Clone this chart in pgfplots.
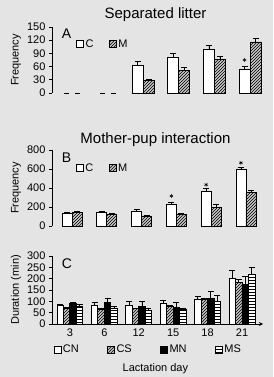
\documentclass[border=0pt]{standalone}
\usepackage{pgfplots}
\pgfplotsset{compat=1.18}
\usetikzlibrary{patterns}
\usepackage{fontspec}
\setmainfont{Liberation Sans}
\definecolor{bg}{HTML}{E4E4E4}
\pgfplotsset{
  panel/.style={scale only axis, axis y line=left, axis line style={-, line width=0.8pt, black},
    tick align=outside, major tick length=3pt, tick style={line width=0.8pt, black},
    /pgf/number format/assume math mode=true,
    ticklabel style={font=\fontsize{11}{11}\selectfont},
    every axis y label/.style={at={(axis description cs:0,0.5)}, xshift=-36pt, rotate=90, anchor=center, font=\fontsize{11}{12}\selectfont},
    clip=false,
    legend style={draw=none, fill=none, inner sep=0pt, font=\fontsize{11}{11}\selectfont,
      nodes={inner sep=1.5pt}},
    legend image code/.code={\draw[##1,/tikz/.cd,line width=0.8pt] (0pt,-3.5pt) rectangle (7pt,3.5pt);},
  },
  eb/.style={error bars/y dir=plus, error bars/y explicit,
    error bars/error bar style={line width=0.8pt, black},
    error bars/error mark options={line width=0.8pt, mark size=3pt, black, rotate=90}},
  cbar/.style={ybar, bar shift=0pt, draw=black, line width=0.8pt, fill=white},
  mbar/.style={ybar, bar shift=0pt, draw=black, line width=0.8pt, fill=gray!45, postaction={pattern=north east lines}},
}
\begin{document}
\begin{tikzpicture}
\path[use as bounding box, fill=bg] (0pt,0pt) rectangle (273pt,377pt);
% Panel A
\begin{axis}[panel, at={(52pt,284pt)}, anchor=south west, width=213pt, height=66pt,
  axis x line=none, xmin=-0.56, xmax=5.42, ymin=0, ymax=150, ytick={0,30,...,150},
  ylabel={Frequency},
  title={Separated litter}, title style={at={(0.5,1)}, anchor=center, yshift=6pt, xshift=-3pt, font=\fontsize{15}{15}\selectfont},
  legend columns=2, legend style={at={(0.113,0.74)}, anchor=west, /tikz/every even column/.append style={column sep=14pt}}]
\addplot[cbar, bar width=11pt, eb] coordinates {(1.845,63) +- (0,8) (2.845,82) +- (0,7) (3.845,98) +- (0,10) (4.845,53) +- (0,8)};
\addlegendentry{C}
\addplot[mbar, bar width=11pt, eb] coordinates {(2.155,29) +- (0,2) (3.155,52) +- (0,6) (4.155,77) +- (0,6) (5.155,116) +- (0,7)};
\addlegendentry{M}
\addplot[only marks, mark=-, mark size=2.5pt, mark options={line width=0.8pt}, forget plot] coordinates {(-0.155,0) (0.155,0) (0.845,0) (1.155,0)};
\addplot[only marks, mark=asterisk, mark size=2pt, mark options={line width=0.5pt}, forget plot] coordinates {(4.845,75)};
\node[anchor=west, font=\fontsize{14}{14}\selectfont] at (rel axis cs:0.03,0.9) {A};
\end{axis}
% Panel B
\begin{axis}[panel, at={(52pt,151pt)}, anchor=south west, width=211pt, height=76pt,
  axis x line=none, xmin=-0.575, xmax=5.49, ymin=0, ymax=800, ytick={0,200,...,800},
  ylabel={Frequency},
  title={Mother-pup interaction}, title style={at={(0.5,1)}, anchor=center, yshift=4pt, xshift=-2pt, font=\fontsize{15}{15}\selectfont},
  legend columns=2, legend style={at={(0.113,0.76)}, anchor=west, /tikz/every even column/.append style={column sep=14pt}}]
\addplot[cbar, bar width=10pt, eb] coordinates {(-0.144,130) +- (0,10) (0.856,141) +- (0,12) (1.856,158) +- (0,12) (2.856,225) +- (0,20) (3.856,360) +- (0,35) (4.856,592) +- (0,20)};
\addlegendentry{C}
\addplot[mbar, bar width=10pt, eb] coordinates {(0.144,141) +- (0,10) (1.144,120) +- (0,8) (2.144,106) +- (0,8) (3.144,120) +- (0,8) (4.144,197) +- (0,30) (5.144,356) +- (0,14)};
\addlegendentry{M}
\addplot[only marks, mark=asterisk, mark size=2pt, mark options={line width=0.5pt}, forget plot] coordinates {(2.856,316) (3.856,435) (4.856,665)};
\node[anchor=west, font=\fontsize{14}{14}\selectfont] at (rel axis cs:0.03,0.9) {B};
\end{axis}
% Panel C
\begin{axis}[panel, at={(52pt,53pt)}, anchor=south west, width=211pt, height=68pt,
  axis x line=bottom, xmin=-0.52, xmax=5.61, ymin=0, ymax=300, ytick={0,50,...,300},
  xtick={0,...,5}, xticklabels={3,6,12,15,18,21},
  ylabel={Duration (min)},
  xlabel={Lactation day}, xlabel style={at={(axis description cs:0.49,0)}, anchor=center, yshift=-45pt, font=\fontsize{11}{11}\selectfont},
  legend columns=4, legend style={at={(0.455,-0.38)}, anchor=center, /tikz/every even column/.append style={column sep=27pt}}]
\addplot[cbar, bar width=6.5pt, eb] coordinates {(-0.283,82) +- (0,4) (0.717,82) +- (0,12) (1.717,82) +- (0,16) (2.717,92) +- (0,14) (3.717,108) +- (0,13) (4.717,202) +- (0,33)};
\addlegendentry{CN}
\addplot[mbar, bar width=6.5pt, eb] coordinates {(-0.094,71) +- (0,2) (0.906,64) +- (0,3) (1.906,67) +- (0,4) (2.906,79) +- (0,4) (3.906,109) +- (0,3) (4.906,183) +- (0,15)};
\addlegendentry{CS}
\addplot[ybar, bar shift=0pt, draw=black, line width=0.8pt, fill=black, bar width=6.5pt, eb] coordinates {(0.094,91) +- (0,3) (1.094,94) +- (0,20) (2.094,79) +- (0,19) (3.094,73) +- (0,21) (4.094,112) +- (0,30) (5.094,174) +- (0,35)};
\addlegendentry{MN}
\addplot[ybar, bar shift=0pt, draw=black, line width=0.8pt, fill=white, postaction={pattern=horizontal lines}, bar width=6.5pt, eb] coordinates {(0.283,77) +- (0,9) (1.283,70) +- (0,9) (2.283,61) +- (0,9) (3.283,64) +- (0,7) (4.283,100) +- (0,24) (5.283,217) +- (0,33)};
\addlegendentry{MS}
\node[anchor=west, font=\fontsize{14}{14}\selectfont] at (rel axis cs:0.03,0.88) {C};
\end{axis}
\end{tikzpicture}
\end{document}
